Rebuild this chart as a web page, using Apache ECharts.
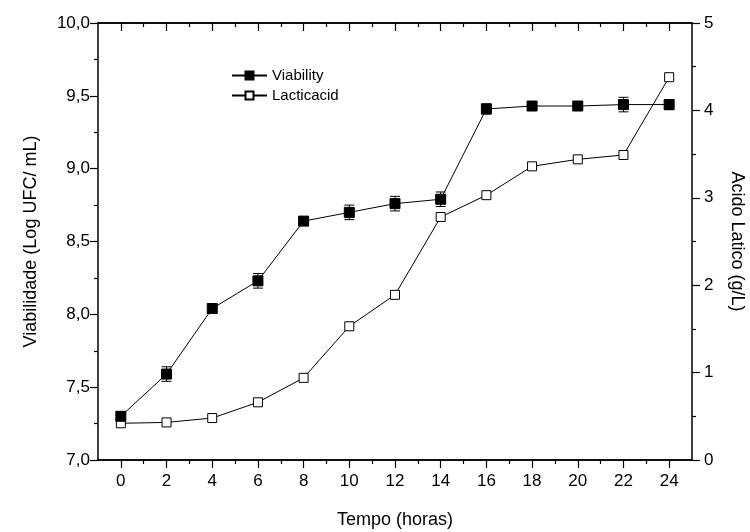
<!DOCTYPE html>
<html>
<head>
<meta charset="utf-8">
<script src="https://cdn.jsdelivr.net/npm/echarts@6/dist/echarts.min.js"></script>
<style>
html, body { margin: 0; padding: 0; background: #fff; }
#main { width: 750px; height: 532px; }
</style>
</head>
<body>
<div id="main"></div>
<script>
// dados
var horas = [0, 2, 4, 6, 8, 10, 12, 14, 16, 18, 20, 22, 24];
var viability = [7.30, 7.59, 8.04, 8.23, 8.64, 8.70, 8.76, 8.79, 9.41, 9.43, 9.43, 9.44, 9.44];
var viabilityErr = [0.03, 0.05, 0.03, 0.05, 0.02, 0.05, 0.05, 0.05, 0.035, 0.02, 0.02, 0.05, 0.035];
var lactic = [0.42, 0.43, 0.48, 0.66, 0.94, 1.53, 1.89, 2.78, 3.03, 3.36, 3.44, 3.49, 4.38];
var minorHoras = [1, 3, 5, 7, 9, 11, 13, 15, 17, 19, 21, 23];

var fonte = 'Liberation Sans, Arial, sans-serif';

var viabData = [];
var lacticData = [];
var errData = [];
for (var i = 0; i < horas.length; i++) {
    viabData.push([horas[i], viability[i]]);
    lacticData.push([horas[i], lactic[i]]);
    errData.push([horas[i], viability[i] - viabilityErr[i], viability[i] + viabilityErr[i]]);
}

function xAxisBase(pos, ticks, len, inside, labels) {
    return {
        type: 'value',
        position: pos,
        min: -1,
        max: 25,
        axisLine: { show: true, onZero: false, lineStyle: { color: '#000', width: 1.5 } },
        axisTick: { show: true, inside: inside, length: len, customValues: ticks, lineStyle: { color: '#000', width: 1.2 } },
        axisLabel: labels ? {
            show: true, customValues: ticks, color: '#000', fontSize: 17, fontFamily: fonte, margin: 13
        } : { show: false },
        splitLine: { show: false }
    };
}

var xMain = xAxisBase('bottom', horas, 8, false, true);
xMain.name = 'Tempo (horas)';
xMain.nameLocation = 'middle';
xMain.nameGap = 51;
xMain.nameTextStyle = { color: '#000', fontSize: 18, fontFamily: fonte };

var myChart = echarts.init(document.getElementById('main'));

var option = {
    backgroundColor: '#fff',
    animation: false,
    grid: { left: 98, right: 58, top: 23, bottom: 72, outerBoundsMode: 'none', containLabel: false },
    legend: {
        orient: 'vertical',
        left: 231,
        top: 68,
        padding: 0,
        itemWidth: 35,
        itemHeight: 10,
        itemGap: 5,
        textStyle: { color: '#000', fontSize: 15, fontFamily: fonte },
        data: ['Viability', 'Lacticacid']
    },
    xAxis: [
        xMain,
        xAxisBase('bottom', minorHoras, 4, false, false),
        xAxisBase('top', horas, 8, true, false),
        xAxisBase('top', minorHoras, 4, true, false)
    ],
    yAxis: [
        {
            type: 'value',
            position: 'left',
            min: 7,
            max: 10,
            interval: 0.5,
            name: 'Viabilidade (Log UFC/ mL)',
            nameLocation: 'middle',
            nameGap: 58,
            nameTextStyle: { color: '#000', fontSize: 18, fontFamily: fonte },
            axisLine: { show: true, onZero: false, lineStyle: { color: '#000', width: 1.5 } },
            axisTick: { show: true, length: 8, lineStyle: { color: '#000', width: 1.2 } },
            minorTick: { show: true, splitNumber: 2, length: 4, lineStyle: { color: '#000', width: 1.2 } },
            axisLabel: {
                color: '#000', fontSize: 17, fontFamily: fonte, margin: 8,
                formatter: function (v) { return v.toFixed(1).replace('.', ','); }
            },
            splitLine: { show: false }
        },
        {
            type: 'value',
            position: 'right',
            min: 0,
            max: 5,
            interval: 1,
            name: 'Acido Latico (g/L)',
            nameLocation: 'middle',
            nameGap: 36,
            nameRotate: -90,
            nameTextStyle: { color: '#000', fontSize: 18, fontFamily: fonte },
            axisLine: { show: true, onZero: false, lineStyle: { color: '#000', width: 1.5 } },
            axisTick: { show: true, length: 8, lineStyle: { color: '#000', width: 1.2 } },
            minorTick: { show: true, splitNumber: 2, length: 4, lineStyle: { color: '#000', width: 1.2 } },
            axisLabel: { color: '#000', fontSize: 17, fontFamily: fonte, margin: 12 },
            splitLine: { show: false }
        }
    ],
    series: [
        {
            name: 'erro',
            type: 'custom',
            xAxisIndex: 0,
            yAxisIndex: 0,
            z: 1,
            data: errData,
            renderItem: function (params, api) {
                var x = api.value(0);
                var lo = api.coord([x, api.value(1)]);
                var hi = api.coord([x, api.value(2)]);
                var w = 5;
                var st = { stroke: '#000', lineWidth: 1 };
                return {
                    type: 'group',
                    children: [
                        { type: 'line', shape: { x1: lo[0], y1: lo[1], x2: hi[0], y2: hi[1] }, style: st },
                        { type: 'line', shape: { x1: lo[0] - w, y1: lo[1], x2: lo[0] + w, y2: lo[1] }, style: st },
                        { type: 'line', shape: { x1: hi[0] - w, y1: hi[1], x2: hi[0] + w, y2: hi[1] }, style: st }
                    ]
                };
            }
        },
        {
            name: 'Viability',
            type: 'line',
            xAxisIndex: 0,
            yAxisIndex: 0,
            z: 3,
            data: viabData,
            symbol: 'rect',
            symbolSize: 10,
            lineStyle: { color: '#000', width: 1 },
            itemStyle: { color: '#000', borderColor: '#000', borderWidth: 1 }
        },
        {
            name: 'Lacticacid',
            type: 'line',
            xAxisIndex: 0,
            yAxisIndex: 1,
            z: 2,
            data: lacticData,
            symbol: 'rect',
            symbolSize: 9,
            lineStyle: { color: '#000', width: 1 },
            itemStyle: { color: '#fff', borderColor: '#000', borderWidth: 1 }
        }
    ]
};

myChart.setOption(option);
</script>
</body>
</html>
